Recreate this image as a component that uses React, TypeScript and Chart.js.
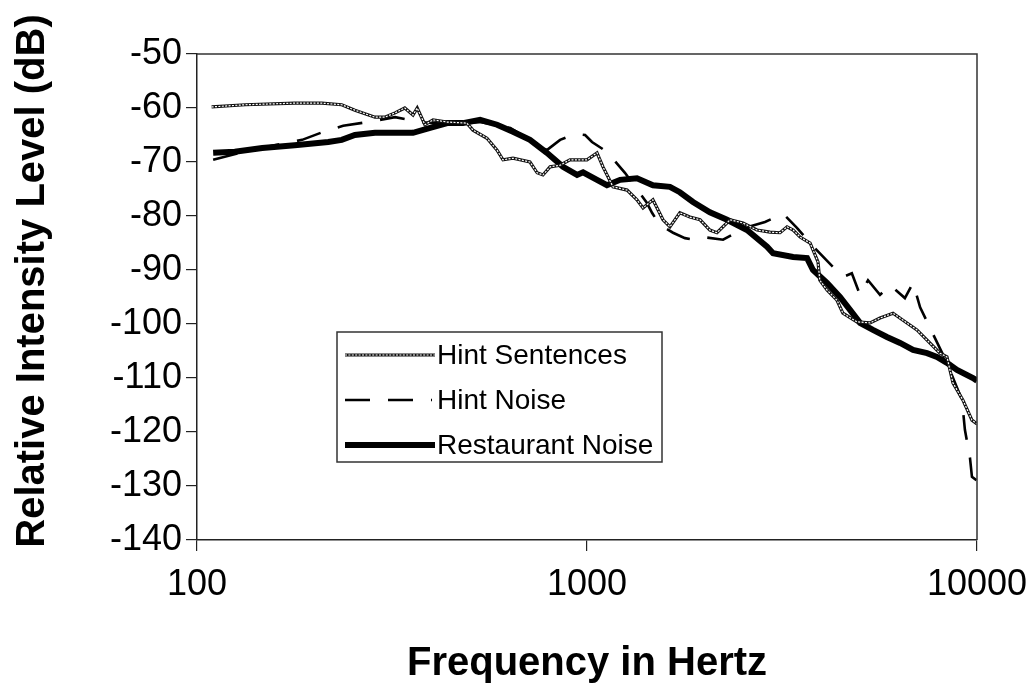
import React, { useEffect, useRef } from "react";
import { Chart, registerables } from "chart.js";

Chart.register(...registerables);

// ---------- data ----------
const sentencesFreq = [
  109, 133, 178, 209, 235, 254, 286, 303, 322, 341, 358, 367, 384, 403, 438, 492, 510, 554, 588, 609,
  646, 714, 745, 771, 804, 853, 904, 1000, 1061, 1099, 1166, 1267, 1343, 1392, 1476, 1566, 1632, 1730,
  1836, 1949, 2066, 2154, 2328, 2512, 2729, 2946, 3126, 3258, 3377, 3519, 3733, 3911, 3953, 4124, 4375,
  4530, 4922, 5320, 5640, 6092, 6461, 7015, 7447, 8035, 8375, 8676, 9204, 9706, 10000,
];
const sentencesLevel = [
  -59.8, -59.4, -59.1, -59.1, -59.4, -60.4, -61.7, -61.7, -60.9, -60.0, -61.3, -60.0, -63.1, -62.2, -62.6,
  -62.8, -64.1, -65.6, -67.8, -69.6, -69.3, -70.0, -72.0, -72.4, -70.9, -70.6, -69.6, -69.6, -68.3, -70.9,
  -74.6, -75.2, -77.0, -78.5, -77.0, -80.7, -82.0, -79.4, -80.2, -80.7, -82.6, -83.1, -80.7, -81.3, -82.6,
  -83.0, -83.1, -82.0, -82.6, -83.9, -85.0, -88.5, -91.9, -93.7, -95.6, -98.0, -99.6, -99.8, -98.9, -98.0,
  -99.3, -101.1, -103.0, -105.4, -106.1, -110.9, -114.1, -117.8, -118.5,
];

const hintNoiseFreq = [
  110, 137, 186, 213, 237, 274, 322, 373, 445, 532, 636, 714, 789, 853, 931, 989, 1030, 1125, 1251, 1425,
  1468, 1539, 1662, 1783, 1892, 1983, 2233, 2541, 2860, 3184, 3454, 3775, 4151, 4530, 4776, 5012, 5255,
  5640, 5986, 6533, 6856, 7147, 7670, 8375, 9154, 9311, 9594, 9706, 10000,
];
const hintNoiseLevel = [
  -69.6, -67.8, -65.9, -64.3, -63.3, -62.6, -61.7, -62.6, -63.0, -62.6, -63.7, -65.9, -67.8, -65.9, -64.8,
  -65.0, -66.3, -68.1, -72.0, -77.6, -79.4, -81.7, -83.1, -84.1, -84.4, -83.9, -84.4, -82.2, -81.1, -79.6,
  -82.2, -85.4, -88.5, -91.3, -90.6, -94.6, -91.9, -94.6, -92.8, -95.2, -92.4, -96.9, -101.5, -107.2,
  -114.1, -119.6, -124.8, -128.3, -129.0,
];

const restaurantFreq = [
  110, 125, 147, 178, 217, 235, 254, 286, 322, 358, 396, 438, 481, 532, 588, 646, 714, 789, 868, 943, 977,
  1061, 1125, 1216, 1343, 1476, 1632, 1730, 1870, 2066, 2286, 2572, 2895, 3000, 3377, 3667, 3797, 4124,
  4453, 4725, 5012, 5410, 5875, 6350, 6856, 7447, 7894, 8375, 8886, 9766, 10000,
];
const restaurantLevel = [
  -68.3, -68.1, -67.4, -66.9, -66.3, -65.9, -65.0, -64.6, -64.6, -64.6, -63.7, -62.8, -62.8, -62.2, -63.1,
  -64.4, -65.9, -68.3, -70.9, -72.4, -71.9, -73.3, -74.3, -73.3, -73.0, -74.3, -74.6, -75.6, -77.4, -79.3,
  -80.7, -82.6, -85.7, -86.9, -87.6, -87.8, -90.0, -92.4, -95.0, -97.4, -99.8, -101.1, -102.4, -103.5,
  -104.8, -105.4, -106.1, -107.2, -108.5, -110.0, -110.5,
];

const seriesLabels = ["Hint Sentences", "Hint Noise", "Restaurant Noise"];
const xTickValues = [100, 1000, 10000];
const yTickValues = [-50, -60, -70, -80, -90, -100, -110, -120, -130, -140];
const xTitle = "Frequency in Hertz";
const yTitle = "Relative Intensity Level (dB)";

const FONT = "'Liberation Sans', Arial, Helvetica, sans-serif";

const toPoints = (xs: number[], ys: number[]) => xs.map((x, i) => ({ x, y: ys[i] }));

// white inner stroke over the "Hint Sentences" line to give the chain-of-rings look
function chainOverlay(ctx: CanvasRenderingContext2D, pts: { x: number; y: number }[]) {
  ctx.save();
  ctx.beginPath();
  pts.forEach((p, i) => (i ? ctx.lineTo(p.x, p.y) : ctx.moveTo(p.x, p.y)));
  ctx.strokeStyle = "#fff";
  ctx.lineWidth = 1.2;
  ctx.lineJoin = "round";
  ctx.setLineDash([2, 1.4]);
  ctx.stroke();
  ctx.restore();
}

const decorPlugin = {
  id: "decor",
  afterDatasetDraw(chart: any, args: any) {
    if (args.index !== 0) return;
    const a = chart.chartArea;
    const ctx = chart.ctx as CanvasRenderingContext2D;
    ctx.save();
    ctx.beginPath();
    ctx.rect(a.left, a.top, a.right - a.left, a.bottom - a.top);
    ctx.clip();
    chainOverlay(ctx, args.meta.data.map((p: any) => ({ x: p.x, y: p.y })));
    ctx.restore();
  },
  afterDraw(chart: any) {
    const ctx = chart.ctx as CanvasRenderingContext2D;
    const a = chart.chartArea;
    ctx.save();
    // top and right frame
    ctx.strokeStyle = "#333";
    ctx.lineWidth = 1.5;
    ctx.beginPath();
    ctx.moveTo(a.left, a.top);
    ctx.lineTo(a.right, a.top);
    ctx.lineTo(a.right, a.bottom);
    ctx.stroke();

    // axis titles
    ctx.fillStyle = "#000";
    ctx.font = `bold 40px ${FONT}`;
    ctx.textAlign = "center";
    ctx.textBaseline = "alphabetic";
    ctx.fillText(xTitle, (a.left + a.right) / 2, 675);
    ctx.save();
    ctx.translate(44, 281);
    ctx.rotate(-Math.PI / 2);
    ctx.fillText(yTitle, 0, 0);
    ctx.restore();

    // legend box
    const bx = 337, by = 332, bw = 325, bh = 130;
    ctx.fillStyle = "#fff";
    ctx.fillRect(bx, by, bw, bh);
    ctx.strokeStyle = "#333";
    ctx.lineWidth = 1.5;
    ctx.strokeRect(bx, by, bw, bh);
    const datasets = chart.data.datasets;
    datasets.forEach((ds: any, i: number) => {
      const y = 355 + i * 45;
      ctx.save();
      ctx.strokeStyle = ds.borderColor;
      ctx.lineWidth = ds.borderWidth;
      ctx.setLineDash(ds.borderDash || []);
      ctx.beginPath();
      ctx.moveTo(345, y);
      ctx.lineTo(i === 1 ? 432 : 435, y);
      ctx.stroke();
      ctx.restore();
      if (i === 0) chainOverlay(ctx, [{ x: 345, y }, { x: 435, y }]);
      ctx.fillStyle = "#000";
      ctx.font = `28px ${FONT}`;
      ctx.textAlign = "left";
      ctx.textBaseline = "middle";
      ctx.fillText(ds.label, 437, y + 1);
    });
    ctx.restore();
  },
};

export default function App() {
  const canvasRef = useRef<HTMLCanvasElement | null>(null);

  useEffect(() => {
    if (!canvasRef.current) return;
    const chart = new Chart(canvasRef.current, {
      type: "line",
      data: {
        datasets: [
          {
            label: seriesLabels[0],
            data: toPoints(sentencesFreq, sentencesLevel),
            borderColor: "#111",
            borderWidth: 3.2,
            borderDash: [],
          },
          {
            label: seriesLabels[1],
            data: toPoints(hintNoiseFreq, hintNoiseLevel),
            borderColor: "#000",
            borderWidth: 2.6,
            borderDash: [25, 18],
          },
          {
            label: seriesLabels[2],
            data: toPoints(restaurantFreq, restaurantLevel),
            borderColor: "#000",
            borderWidth: 6,
            borderDash: [],
          },
        ],
      },
      options: {
        responsive: false,
        maintainAspectRatio: false,
        animation: false,
        layout: { padding: { top: 54, right: 53, left: 0, bottom: 0 } },
        elements: { point: { radius: 0 }, line: { tension: 0 } },
        plugins: { legend: { display: false }, tooltip: { enabled: false } },
        scales: {
          x: {
            type: "logarithmic",
            min: 100,
            max: 10000,
            afterBuildTicks: (s: any) => {
              s.ticks = xTickValues.map((v) => ({ value: v }));
            },
            afterFit: (s: any) => {
              s.height = 143;
              s.paddingLeft = 0;
              s.paddingRight = 0;
            },
            ticks: {
              callback: (v: any) => String(v),
              color: "#000",
              font: { family: FONT, size: 36 },
              padding: 12,
              maxRotation: 0,
              autoSkip: false,
            },
            grid: { drawOnChartArea: false, drawTicks: true, tickLength: 11, color: "#222", lineWidth: 1.2 },
            border: { display: true, color: "#222", width: 1.5 },
          },
          y: {
            type: "linear",
            min: -140,
            max: -50,
            afterBuildTicks: (s: any) => {
              s.ticks = yTickValues.map((v) => ({ value: v }));
            },
            afterFit: (s: any) => {
              s.width = 197;
              s.paddingTop = 0;
              s.paddingBottom = 0;
            },
            ticks: {
              color: "#000",
              font: { family: FONT, size: 36 },
              padding: 4,
            },
            grid: { drawOnChartArea: false, drawTicks: true, tickLength: 11, color: "#222", lineWidth: 1.2 },
            border: { display: true, color: "#222", width: 1.5 },
          },
        },
      },
      plugins: [decorPlugin],
    });
    return () => chart.destroy();
  }, []);

  return (
    <div style={{ position: "absolute", left: 0, top: 0, width: 1030, height: 683, background: "#fff" }}>
      <canvas ref={canvasRef} width={1030} height={683} style={{ display: "block" }} />
    </div>
  );
}
